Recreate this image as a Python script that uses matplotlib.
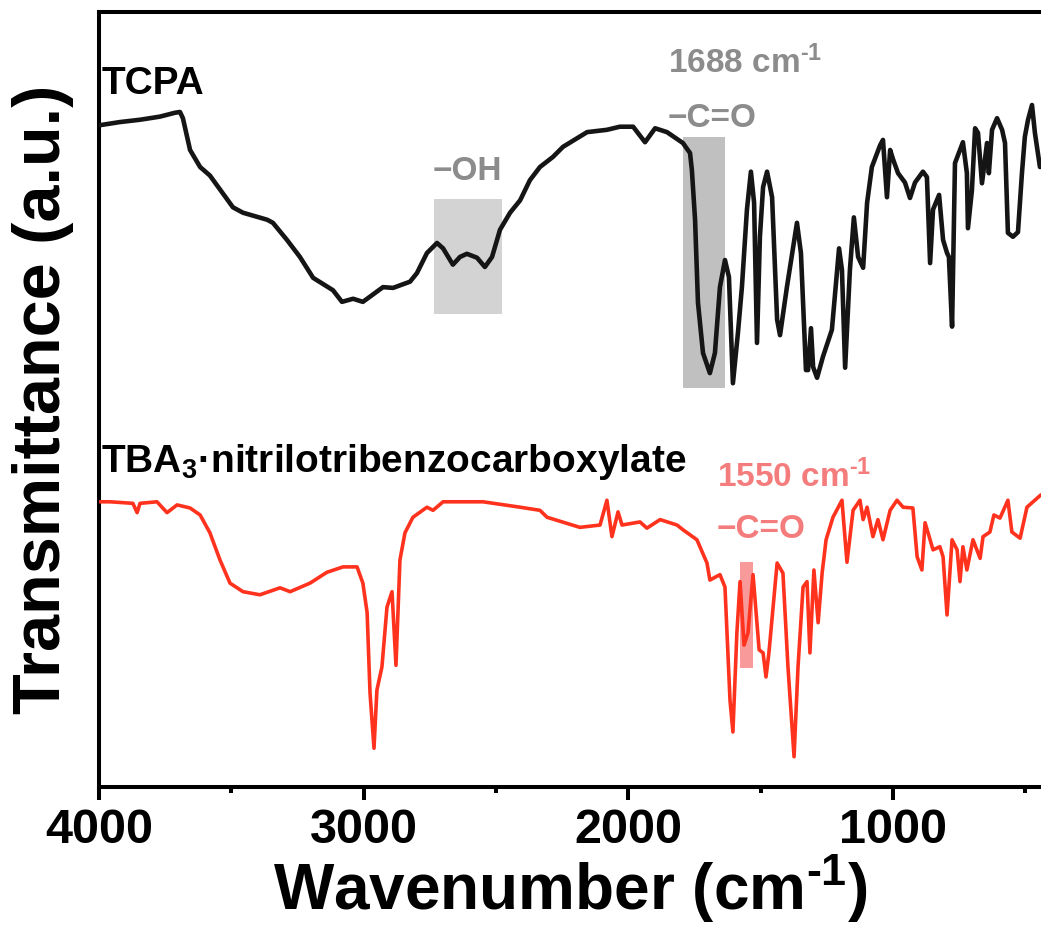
import matplotlib
matplotlib.use("Agg")
import matplotlib.pyplot as plt
from matplotlib.patches import Rectangle
from matplotlib.ticker import MultipleLocator

plt.rcParams['font.family'] = ['Liberation Sans', 'DejaVu Sans']
plt.rcParams['font.weight'] = 'bold'
plt.rcParams['mathtext.fontset'] = 'custom'
plt.rcParams['mathtext.rm'] = 'Liberation Sans:bold'
plt.rcParams['mathtext.bf'] = 'Liberation Sans:bold'
plt.rcParams['mathtext.default'] = 'rm'

# TCPA spectrum (wavenumber, transmittance a.u.)
tcpa_wn = [3996, 3921, 3845, 3770, 3713, 3694, 3683, 3656, 3618, 3581, 3494, 3456,
           3365, 3343, 3290, 3241, 3191, 3116, 3082, 3040, 3003, 2927, 2889, 2825,
           2799, 2761, 2723, 2700, 2663, 2636, 2610, 2572, 2542, 2515, 2485, 2447,
           2409, 2372, 2334, 2285, 2247, 2156, 2081, 2032, 1982, 1937, 1899, 1854,
           1794, 1767,
           1760, 1748, 1737, 1718, 1692, 1673, 1654, 1635, 1620, 1605,
           1586, 1571, 1552, 1537, 1525, 1514, 1503, 1491, 1476, 1457,
           1438, 1427, 1401, 1363, 1348, 1329, 1321, 1310, 1302, 1287,
           1265, 1231, 1204, 1193, 1181, 1163, 1148, 1132, 1113, 1098,
           1080, 1049, 1038, 1023, 1011, 1000, 981, 955, 936, 917,
           887, 872, 860, 849, 826, 811, 796, 789, 777, 766,
           747, 736, 721, 717, 702, 690, 679, 664, 645, 638,
           626, 607, 588, 577, 566, 547, 528, 513, 502, 490,
           475, 464, 445]
tcpa_t = [85.4, 85.8, 86.1, 86.5, 87.0, 87.1, 86.3, 82.2, 80.0, 78.9, 74.8, 74.1,
          73.2, 72.8, 70.6, 68.4, 65.7, 64.1, 62.6, 63.0, 62.6, 64.5, 64.4, 65.2,
          66.3, 68.9, 70.2, 69.5, 67.4, 68.4, 68.8, 68.3, 67.1, 68.4, 71.9, 74.1,
          75.7, 78.3, 80.0, 81.3, 82.6, 84.5, 84.8, 85.2, 85.2, 83.2, 85.0, 84.5,
          83.1, 81.8,
          79.6, 73.2, 62.5, 56.0, 53.4, 56.0, 64.5, 68.0, 65.8, 52.1,
          58.6, 64.5, 74.5, 79.4, 75.4, 57.3, 71.0, 77.4, 79.4, 76.1,
          60.3, 58.3, 64.5, 72.8, 68.9, 53.8, 53.8, 59.2, 54.2, 52.8,
          55.5, 59.0, 69.5, 66.7, 54.1, 66.7, 73.5, 68.4, 67.0, 75.4,
          80.0, 82.8, 83.5, 76.1, 82.2, 81.0, 79.2, 78.0, 76.0, 78.0,
          79.4, 78.7, 67.6, 74.5, 76.4, 70.6, 68.9, 68.4, 59.4, 80.5,
          82.2, 83.2, 79.2, 72.1, 77.0, 85.0, 84.4, 77.9, 83.1, 79.2,
          84.8, 86.3, 84.8, 83.1, 71.5, 71.0, 71.6, 79.2, 83.9, 86.1,
          88.0, 84.4, 80.0]

# TBA3 nitrilotribenzocarboxylate spectrum
tba_wn = [3996, 3958, 3872, 3856, 3845, 3781, 3743, 3705, 3656, 3618, 3581, 3543,
          3505, 3456, 3392, 3316, 3278, 3203, 3139, 3078, 3025, 3003, 2987, 2976,
          2961, 2950, 2931, 2912, 2893, 2878, 2863, 2844, 2814, 2761, 2738, 2700,
          2549, 2409, 2334, 2307, 2183, 2107, 2081, 2062, 2039, 2024, 1956, 1930,
          1880, 1816, 1794, 1741, 1703, 1692, 1654, 1635, 1616, 1605, 1590, 1578,
          1563, 1548, 1529, 1506, 1491, 1480, 1469, 1438, 1416, 1397, 1374, 1359,
          1340, 1325, 1314, 1299, 1283, 1268, 1253, 1227, 1193, 1181, 1174, 1151,
          1125, 1113, 1098, 1076, 1057, 1038, 1011, 985, 962, 925, 909, 891, 879,
          860, 849, 823, 811, 796, 777, 758, 747, 736, 721, 698, 671, 660, 634,
          619, 596, 566, 551, 520, 494, 471, 441]
tba_t = [36.8, 36.8, 36.6, 35.4, 36.6, 36.8, 35.4, 36.4, 36.0, 35.1, 32.8, 29.3,
         26.3, 25.2, 24.8, 25.7, 25.2, 26.3, 27.7, 28.4, 28.4, 26.3, 22.5, 12.1,
         5.0, 12.5, 15.5, 23.2, 25.2, 15.7, 29.3, 32.8, 34.8, 36.1, 35.7, 36.8,
         36.8, 36.1, 35.7, 34.8, 33.5, 33.8, 37.0, 32.3, 35.5, 33.8, 34.2, 33.4,
         34.5, 33.8, 33.2, 31.9, 28.9, 26.7, 27.4, 25.8, 11.2, 7.1, 19.9, 26.5,
         18.3, 19.9, 27.4, 17.7, 17.3, 14.2, 17.3, 28.9, 27.6, 15.5, 3.9, 15.5,
         25.8, 26.5, 17.3, 28.0, 21.2, 27.6, 31.9, 34.8, 37.0, 31.9, 29.0, 35.7,
         37.0, 34.5, 36.1, 32.3, 34.5, 31.9, 35.7, 37.0, 36.1, 36.0, 29.7, 28.0, 34.1,
         31.9, 30.6, 31.0, 29.7, 22.2, 31.9, 30.6, 26.5, 31.0, 28.0, 31.9, 29.5, 32.3, 32.9,
         35.1, 34.7, 37.0, 32.9, 32.1, 36.1, 36.8, 37.7]

# highlighted bands: (wn_high, wn_low, t_low, t_high)
oh_band = [2734, 2477, 61.0, 75.9]
co_band_tcpa = [1794, 1635, 51.5, 83.9]
co_band_tba = [1578, 1529, 15.4, 29.0]

fig = plt.figure(figsize=(10.41, 9.39), dpi=100)
ax = fig.add_axes([0.0951, 0.1619, 0.9049, 0.8253])

for band, col in [(oh_band, '#d3d3d3'), (co_band_tcpa, '#c0c0c0'), (co_band_tba, '#f99a9a')]:
    ax.add_patch(Rectangle((band[1], band[2]), band[0] - band[1], band[3] - band[2],
                           facecolor=col, edgecolor='none', zorder=1))

ax.plot(tcpa_wn, tcpa_t, color='#151515', lw=3.3, zorder=3,
        solid_joinstyle='round', solid_capstyle='round')
ax.plot(tba_wn, tba_t, color='#ff321e', lw=2.6, zorder=3,
        solid_joinstyle='round', solid_capstyle='round')

ax.text(3989, 89.4, 'TCPA', fontsize=28, fontweight='bold', color='black')
ax.text(3992, 40.6, r'TBA$_3$·nitrilotribenzocarboxylate', fontsize=28,
        fontweight='bold', color='black')
ax.text(2738, 78.3, '−OH', fontsize=24, fontweight='bold', color='#8c8c8c')
ax.text(1850, 92.1, r'1688 cm$^{\text{-1}}$', fontsize=24, fontweight='bold', color='#8c8c8c')
ax.text(1850, 85.2, '−C=O', fontsize=24, fontweight='bold', color='#8c8c8c')
ax.text(1665, 38.7, r'1550 cm$^{\text{-1}}$', fontsize=24, fontweight='bold', color='#f47c7c')
ax.text(1665, 32.1, '−C=O', fontsize=24, fontweight='bold', color='#f47c7c')

ax.set_xlim(4000, 441)
ax.set_ylim(0, 100)
ax.xaxis.set_major_locator(MultipleLocator(1000))
ax.xaxis.set_minor_locator(MultipleLocator(500))
ax.set_yticks([])
ax.spines['right'].set_visible(False)
for s in ['left', 'top', 'bottom']:
    ax.spines[s].set_linewidth(2.9)
ax.tick_params(axis='x', which='major', length=9, width=2.9, labelsize=35, pad=6)
ax.tick_params(axis='x', which='minor', length=4.5, width=2.9)
for lab in ax.get_xticklabels():
    lab.set_fontweight('bold')

ax.set_xlabel(r'Wavenumber (cm$^{\text{-1}}$)', fontsize=46, fontweight='bold', labelpad=0)
ax.set_ylabel('Transmittance (a.u.)', fontsize=48, fontweight='bold', labelpad=18)

fig.savefig('out.png', dpi=100)
